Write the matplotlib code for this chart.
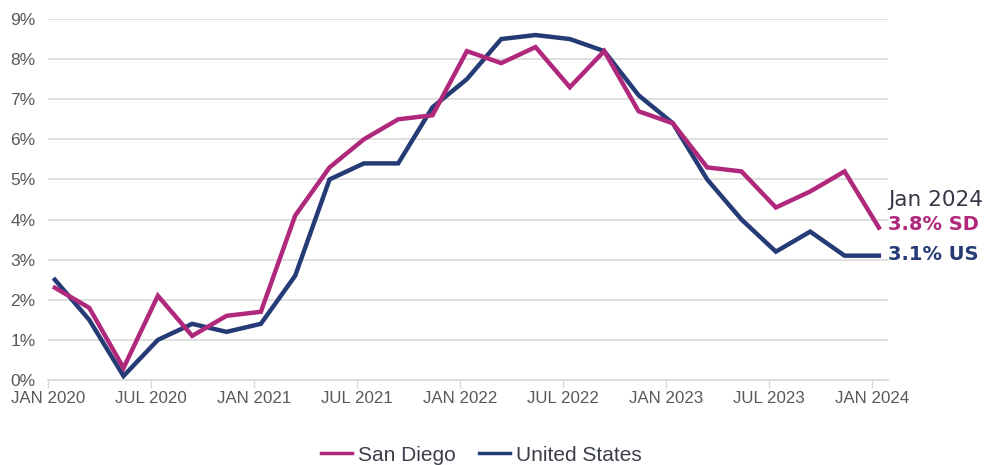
import numpy as np
import matplotlib
matplotlib.use("Agg")
import matplotlib.pyplot as plt

# bi-monthly readings, Jan 2020 .. Jan 2024 (percent)
months = np.arange(0, 49, 2)
san_diego = [2.3, 1.8, 0.3, 2.1, 1.1, 1.6, 1.7, 4.1, 5.3, 6.0, 6.5, 6.6, 8.2,
             7.9, 8.3, 7.3, 8.2, 6.7, 6.4, 5.3, 5.2, 4.3, 4.7, 5.2, 3.8]
united_states = [2.5, 1.5, 0.1, 1.0, 1.4, 1.2, 1.4, 2.6, 5.0, 5.4, 5.4, 6.8, 7.5,
                 8.5, 8.6, 8.5, 8.2, 7.1, 6.4, 5.0, 4.0, 3.2, 3.7, 3.1, 3.1]
tick_months = [0, 6, 12, 18, 24, 30, 36, 42, 48]
tick_labels = ["JAN 2020", "JUL 2020", "JAN 2021", "JUL 2021", "JAN 2022",
               "JUL 2022", "JAN 2023", "JUL 2023", "JAN 2024"]

SD_COL = "#B0287C"
US_COL = "#253B76"
GRID = "#D9D9D9"
TXT = "#595959"

plt.rcParams["font.family"] = ["Liberation Sans", "DejaVu Sans"]

fig = plt.figure(figsize=(9.99, 4.65), dpi=100)
ax = fig.add_axes([48 / 999, 1 - 380 / 465, 840 / 999, 361 / 465])

xs = months + 0.4  # points sit a bit right of the month ticks
ax.plot(xs, san_diego, color=SD_COL, lw=3.2, solid_joinstyle="miter", label="San Diego", zorder=3)
ax.plot(xs, united_states, color=US_COL, lw=3.2, solid_joinstyle="miter", label="United States", zorder=2)

ax.set_xlim(0, 840 / (824 / 48))
ax.set_ylim(0, 9)
ax.set_yticks(range(10))
ax.set_yticklabels([f"{v}%" for v in range(10)])
ax.set_xticks(tick_months)
ax.set_xticklabels(tick_labels)
ax.tick_params(axis="y", length=0, pad=9, labelsize=12.5, labelcolor=TXT)
ax.tick_params(axis="x", length=6, width=1, color=GRID, pad=2, labelsize=12.2, labelcolor=TXT)
ax.grid(axis="y", color=GRID, lw=1.2)
ax.set_axisbelow(True)
for s in ["top", "right", "left"]:
    ax.spines[s].set_visible(False)
ax.spines["bottom"].set_color(GRID)
ax.spines["bottom"].set_linewidth(1.2)

# end labels
lab = dict(transform=ax.transData, clip_on=False, ha="left", va="center",
           family=["DejaVu Sans"])
xe = 840 / (824 / 48)
ax.text(xe, 4.49, "Jan 2024", color="#333844", fontsize=15.5, **lab)
ax.text(xe, 3.87, "3.8% SD", color=SD_COL, fontweight="bold", fontsize=14, **lab)
ax.text(xe, 3.14, "3.1% US", color=US_COL, fontweight="bold", fontsize=14, **lab)

leg = fig.legend(loc="center", bbox_to_anchor=(0.482, 1 - 455 / 465), ncol=2,
                 frameon=False, fontsize=15, handlelength=1.45, handletextpad=0.3,
                 columnspacing=1.15, labelcolor="#3A3F4A")
for h in leg.get_lines():
    h.set_linewidth(2.5)

fig.savefig("out.png", dpi=100)
